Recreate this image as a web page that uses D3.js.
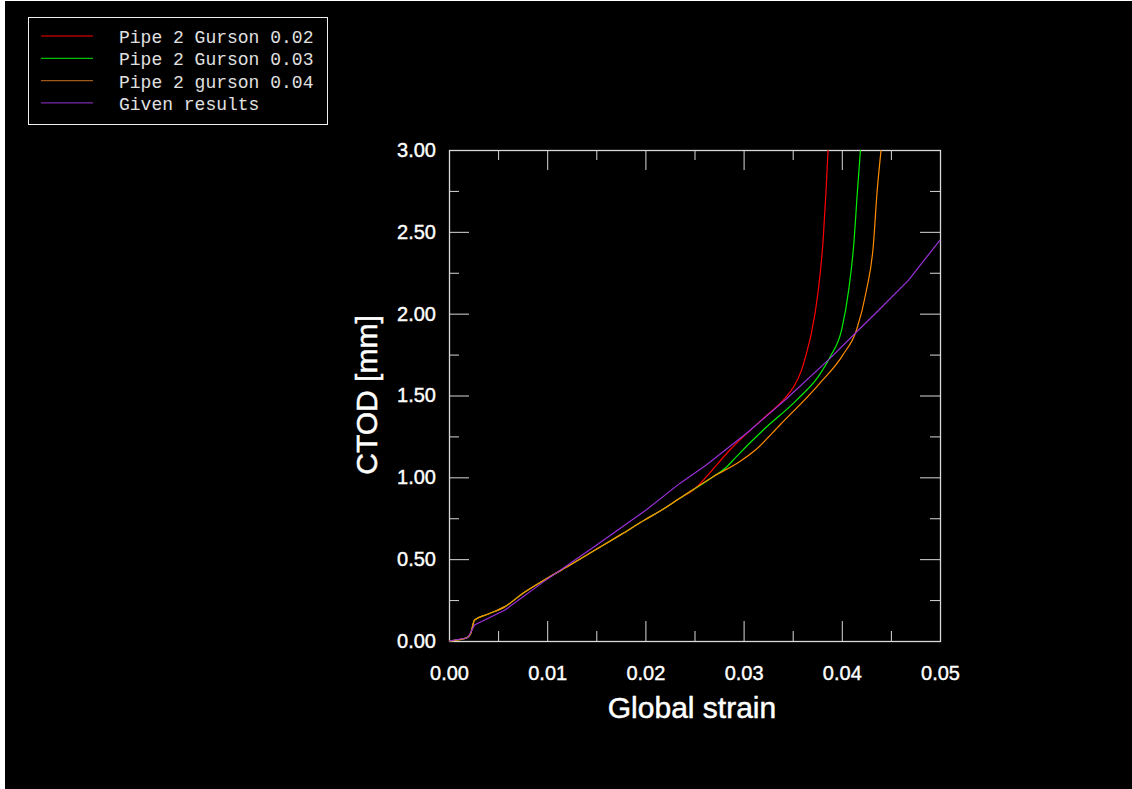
<!DOCTYPE html>
<html>
<head>
<meta charset="utf-8">
<script src="https://cdn.jsdelivr.net/npm/d3@7"></script>
<style>
  body { margin: 0; background: #fff; }
  svg { display: block; }
</style>
</head>
<body>
<div id="chart"></div>
<script>
// series: [global strain, CTOD mm]
var seriesNames = ["Pipe 2 Gurson 0.02", "Pipe 2 Gurson 0.03", "Pipe 2 gurson 0.04", "Given results"];
var seriesColors = ["#ff0000", "#00ee00", "#ff8c00", "#9a30d8"];
var legendColors = ["#ff0000", "#00c000", "#a0581a", "#7a2aa8"];

var gurson002 = [[0,0],[0.001,0.008],[0.0018,0.02],[0.0022,0.045],[0.0026,0.128],[0.004,0.165],[0.0057,0.21],[0.0075,0.29],
  [0.01,0.383],[0.0125,0.47],[0.015,0.56],[0.0175,0.65],[0.02,0.742],[0.0215,0.794],[0.0235,0.872],[0.0249,0.922],
  [0.0259,0.983],[0.0286,1.167],[0.032,1.36],[0.0342,1.482],[0.0351,1.553],[0.0359,1.655],[0.0365,1.78],[0.0369,1.88],
  [0.0376,2.14],[0.0381,2.45],[0.0384,2.755],[0.0386,3.0]];
var gurson003 = [[0,0],[0.001,0.008],[0.0018,0.02],[0.0022,0.045],[0.0026,0.128],[0.004,0.165],[0.0057,0.21],[0.0075,0.29],
  [0.01,0.383],[0.0125,0.47],[0.015,0.56],[0.0175,0.65],[0.02,0.742],[0.0215,0.794],[0.0235,0.872],[0.0269,1.004],
  [0.0283,1.065],[0.0291,1.116],[0.032,1.289],[0.0354,1.472],[0.0376,1.615],[0.0388,1.735],[0.04,1.905],[0.0407,2.144],
  [0.0412,2.41],[0.0416,2.755],[0.0419,3.0]];
var gurson004 = [[0,0],[0.001,0.008],[0.0018,0.02],[0.0022,0.045],[0.0026,0.128],[0.004,0.165],[0.0057,0.21],[0.0075,0.29],
  [0.01,0.383],[0.0125,0.47],[0.015,0.56],[0.0175,0.65],[0.02,0.742],[0.0215,0.794],[0.0235,0.872],[0.0269,1.004],
  [0.0297,1.10],[0.0312,1.167],[0.0337,1.32],[0.0376,1.564],[0.0401,1.747],[0.0415,1.90],[0.0425,2.14],[0.0432,2.41],
  [0.0436,2.75],[0.044,3.0]];
var givenResults = [[0,0],[0.0019,0.02],[0.0022,0.05],[0.0026,0.098],[0.0057,0.189],[0.01,0.378],[0.015,0.585],[0.02,0.797],
  [0.0235,0.963],[0.0262,1.075],[0.0303,1.269],[0.0344,1.482],[0.0388,1.727],[0.0417,1.90],[0.0436,2.012],[0.0468,2.205],[0.05,2.45]];

var xMajor = [0, 0.01, 0.02, 0.03, 0.04, 0.05];
var xMinor = [0.005, 0.015, 0.025, 0.035, 0.045];
var yMajor = [0, 0.5, 1, 1.5, 2, 2.5, 3];
var yMinor = [0.25, 0.75, 1.25, 1.75, 2.25, 2.75];

var allSeries = [gurson002, gurson003, gurson004, givenResults];

var W = 1132, H = 789;
var plot = {left: 449, top: 150, right: 940, bottom: 641};

var svg = d3.select("#chart").append("svg")
    .attr("width", W)
    .attr("height", H);

// black canvas with the thin white edge on the left/top
svg.append("rect")
    .attr("x", 5).attr("y", 1)
    .attr("width", W - 5).attr("height", H - 1)
    .attr("fill", "#000");

var x = d3.scaleLinear().domain([0, 0.05]).range([plot.left, plot.right]);
var y = d3.scaleLinear().domain([0, 3]).range([plot.bottom, plot.top]);

var tickColor = "#d8d8d8";

function styleAxis(g) {
  g.select(".domain").remove();
  g.selectAll(".tick line").attr("stroke", tickColor);
  g.selectAll(".tick text")
    .attr("fill", "#ffffff")
    .attr("stroke", "#ffffff")
    .attr("stroke-width", 0.4)
    .style("font-family", "Liberation Sans, Arial, sans-serif")
    .style("font-size", "20px");
}

// bottom: major ticks with labels, minor without
svg.append("g")
    .attr("transform", "translate(0," + plot.bottom + ")")
    .call(d3.axisBottom(x).tickValues(xMajor).tickSize(-20).tickPadding(25).tickFormat(d3.format(".2f")))
    .call(styleAxis);
svg.append("g")
    .attr("transform", "translate(0," + plot.bottom + ")")
    .call(d3.axisBottom(x).tickValues(xMinor).tickSize(-10).tickFormat(""))
    .call(styleAxis);
// top
svg.append("g")
    .attr("transform", "translate(0," + plot.top + ")")
    .call(d3.axisTop(x).tickValues(xMajor).tickSize(-20).tickFormat(""))
    .call(styleAxis);
svg.append("g")
    .attr("transform", "translate(0," + plot.top + ")")
    .call(d3.axisTop(x).tickValues(xMinor).tickSize(-10).tickFormat(""))
    .call(styleAxis);
// left
svg.append("g")
    .attr("transform", "translate(" + plot.left + ",0)")
    .call(d3.axisLeft(y).tickValues(yMajor).tickSize(-20).tickPadding(13).tickFormat(d3.format(".2f")))
    .call(styleAxis);
svg.append("g")
    .attr("transform", "translate(" + plot.left + ",0)")
    .call(d3.axisLeft(y).tickValues(yMinor).tickSize(-10).tickFormat(""))
    .call(styleAxis);
// right
svg.append("g")
    .attr("transform", "translate(" + plot.right + ",0)")
    .call(d3.axisRight(y).tickValues(yMajor).tickSize(-20).tickFormat(""))
    .call(styleAxis);
svg.append("g")
    .attr("transform", "translate(" + plot.right + ",0)")
    .call(d3.axisRight(y).tickValues(yMinor).tickSize(-10).tickFormat(""))
    .call(styleAxis);

// frame
svg.append("rect")
    .attr("x", plot.left + 0.5).attr("y", plot.top + 0.5)
    .attr("width", plot.right - plot.left).attr("height", plot.bottom - plot.top)
    .attr("fill", "none")
    .attr("stroke", tickColor)
    .attr("stroke-width", 1.3);

// curves: the FE results are smooth, the given results are a polyline
var smoothLine = d3.line()
    .curve(d3.curveMonotoneX)
    .x(function(d) { return x(d[0]); })
    .y(function(d) { return y(d[1]); });
var straightLine = d3.line()
    .x(function(d) { return x(d[0]); })
    .y(function(d) { return y(d[1]); });

svg.selectAll(".curve")
  .data(allSeries)
  .enter()
  .append("path")
    .attr("class", "curve")
    .attr("d", function(d, i) { return i < 3 ? smoothLine(d) : straightLine(d); })
    .attr("fill", "none")
    .attr("stroke", function(d, i) { return seriesColors[i]; })
    .attr("stroke-width", 1.2);

// axis titles
svg.append("text")
    .attr("x", 692)
    .attr("y", 718)
    .attr("text-anchor", "middle")
    .attr("fill", "#ffffff")
    .attr("stroke", "#ffffff")
    .attr("stroke-width", 0.5)
    .style("font-family", "Liberation Sans, Arial, sans-serif")
    .style("font-size", "30px")
    .text("Global strain");

svg.append("text")
    .attr("transform", "translate(377,395) rotate(-90)")
    .attr("text-anchor", "middle")
    .attr("fill", "#ffffff")
    .attr("stroke", "#ffffff")
    .attr("stroke-width", 0.5)
    .style("font-family", "Liberation Sans, Arial, sans-serif")
    .style("font-size", "30px")
    .text("CTOD [mm]");

// legend
var legend = svg.append("g");
legend.append("rect")
    .attr("x", 28.5).attr("y", 17.5)
    .attr("width", 299).attr("height", 107)
    .attr("fill", "#000")
    .attr("stroke", "#f0f0f0")
    .attr("stroke-width", 1);

var rows = legend.selectAll(".row")
  .data(seriesNames)
  .enter()
  .append("g")
    .attr("class", "row")
    .attr("transform", function(d, i) { return "translate(0," + (i * 22.3) + ")"; });

rows.append("line")
    .attr("x1", 41).attr("x2", 93)
    .attr("y1", 36).attr("y2", 36)
    .attr("stroke", function(d, i) { return legendColors[i]; })
    .attr("stroke-width", 1.2);

rows.append("text")
    .attr("x", 119)
    .attr("y", 43)
    .attr("fill", "#e0e0e0")
    .style("font-family", "Liberation Mono, Courier New, monospace")
    .style("font-size", "18px")
    .text(function(d) { return d; });
</script>
</body>
</html>
